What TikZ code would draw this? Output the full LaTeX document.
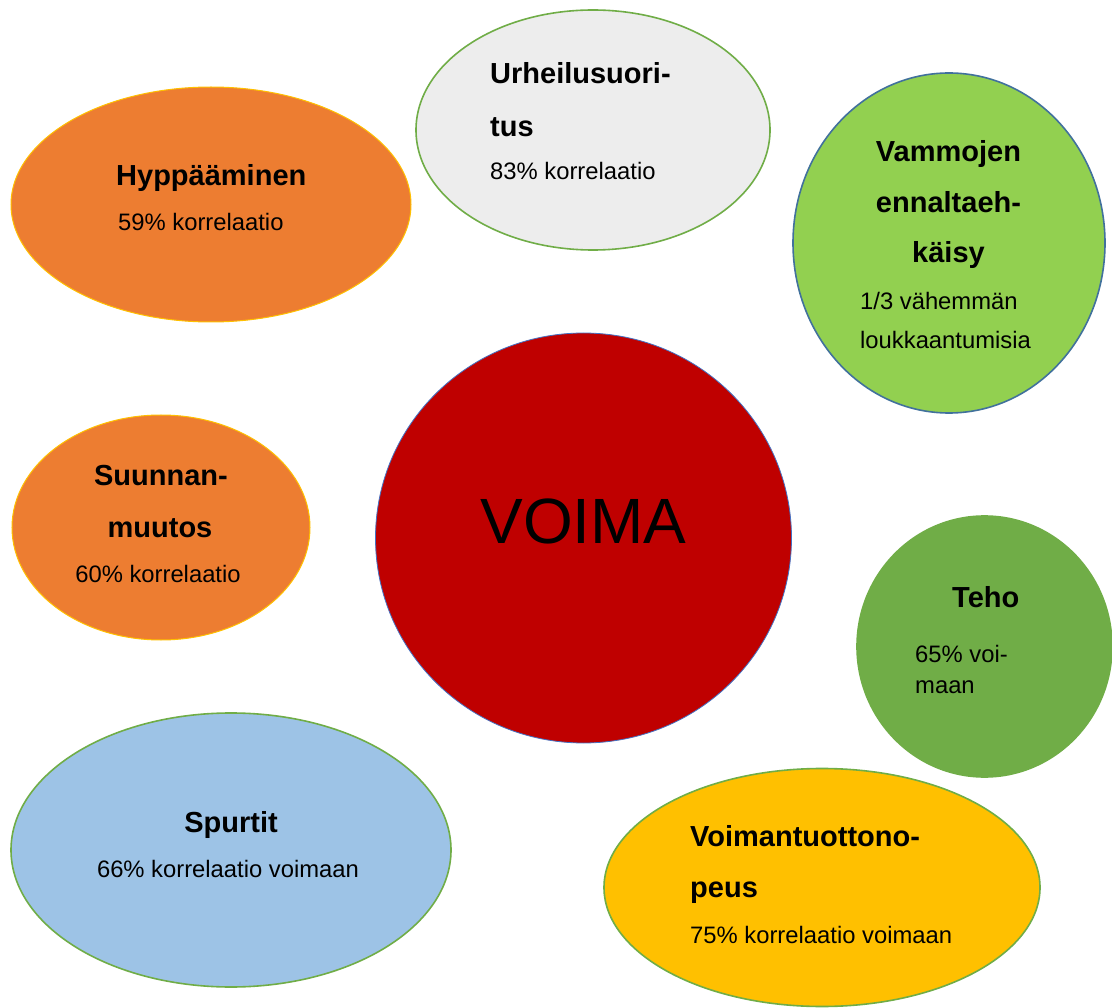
\documentclass[tikz,border=0pt]{standalone}
\usepackage{fontspec}
\setmainfont{Liberation Sans}
\usetikzlibrary{shapes.geometric}
\definecolor{orangeA}{HTML}{ED7D31}
\definecolor{greyA}{HTML}{EDEDED}
\definecolor{lgreenA}{HTML}{92D050}
\definecolor{redA}{HTML}{BF0000}
\definecolor{greenA}{HTML}{70AD47}
\definecolor{blueA}{HTML}{9DC3E6}
\definecolor{goldA}{HTML}{FFC000}
\definecolor{edgeblue}{HTML}{4472C4}
\definecolor{edgeblueB}{HTML}{41719C}
\begin{document}
\begin{tikzpicture}[x=1pt,y=-1pt,
  bubble/.style={ellipse, inner sep=0pt, line width=1.6pt},
  ttl/.style={anchor=base west, inner sep=0pt, font=\fontsize{29}{29}\selectfont\bfseries},
  ttlc/.style={anchor=base, inner sep=0pt, font=\fontsize{29}{29}\selectfont\bfseries},
  bdy/.style={anchor=base west, inner sep=0pt, font=\fontsize{23.8}{24}\selectfont},
  bdyc/.style={anchor=base, inner sep=0pt, font=\fontsize{23.8}{24}\selectfont}]
\useasboundingbox (0,0) rectangle (1112,1008);
\fill[white] (0,0) rectangle (1112,1008);

% bubbles
\node[bubble, fill=orangeA, draw=goldA, line width=1pt, minimum width=400pt, minimum height=235pt] (hyp) at (211,204.5) {};
\node[bubble, fill=greyA, draw=greenA, minimum width=354pt, minimum height=240pt] (urh) at (593,130) {};
\node[bubble, fill=lgreenA, draw=edgeblueB, minimum width=312pt, minimum height=340pt] (vam) at (949,243) {};
\node[bubble, fill=orangeA, draw=goldA, line width=1pt, minimum width=298pt, minimum height=225pt] (suu) at (161,527.5) {};
\node[bubble, fill=redA, draw=edgeblue, line width=0.8pt, minimum width=416pt, minimum height=410pt] (voi) at (583.5,538) {};
\node[bubble, fill=greenA, draw=greenA, minimum width=255pt, minimum height=261pt] (teh) at (984.5,646.5) {};
\node[bubble, fill=blueA, draw=greenA, minimum width=440pt, minimum height=274pt] (spu) at (231,850) {};
\node[bubble, fill=goldA, draw=greenA, minimum width=436pt, minimum height=238pt] (vtn) at (822,887.5) {};

% texts
\node[ttl] (hypT) at (116,186) {Hyppääminen};
\node[bdy] (hypB) at (118,231) {59\% korrelaatio};

\node[ttl] (urhT1) at (490,84) {Urheilusuori-};
\node[ttl] (urhT2) at (490,137) {tus};
\node[bdy] (urhB) at (490,180) {83\% korrelaatio};

\node[ttlc] (vamT1) at (948.5,162) {Vammojen};
\node[ttlc] (vamT2) at (948.5,213) {ennaltaeh-};
\node[ttlc] (vamT3) at (948.5,263) {käisy};
\node[bdy] (vamB1) at (860,310) {1/3 vähemmän};
\node[bdy] (vamB2) at (860,349) {loukkaantumisia};

\node[ttlc] (suuT1) at (161,485) {Suunnan-};
\node[ttlc] (suuT2) at (160,537) {muutos};
\node[bdyc] (suuB) at (158,582) {60\% korrelaatio};

\node[anchor=base, inner sep=0pt, font=\fontsize{64}{64}\selectfont] (voiT) at (583.5,543) {VOIMA};

\node[ttl] (tehT) at (952,607) {Teho};
\node[bdy] (tehB1) at (915,662) {65\% voi-};
\node[bdy] (tehB2) at (915,693) {maan};

\node[ttlc] (spuT) at (231,832) {Spurtit};
\node[bdyc] (spuB) at (228,877) {66\% korrelaatio voimaan};

\node[ttl] (vtnT1) at (690,846) {Voimantuottono-};
\node[ttl] (vtnT2) at (690,897) {peus};
\node[bdy] (vtnB) at (690,943) {75\% korrelaatio voimaan};
\end{tikzpicture}
\end{document}
